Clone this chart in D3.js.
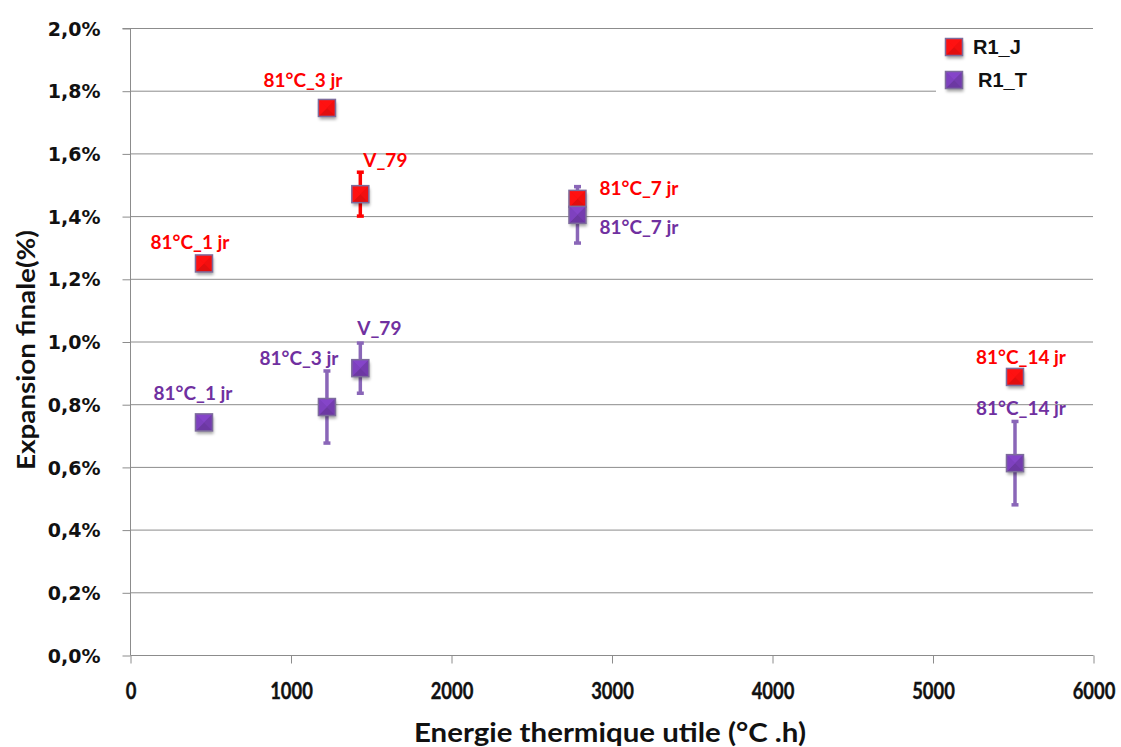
<!DOCTYPE html>
<html><head><meta charset="utf-8">
<script src="https://cdn.jsdelivr.net/npm/d3@7/dist/d3.min.js"></script>
<style>
body{margin:0;background:#fff;}
svg{display:block;}
</style></head>
<body>
<svg id="chart" width="1121" height="747"></svg>
<script>
// ---- data ----
const seriesNames = ["R1_J", "R1_T"];
const energyJ = [461, 1227, 1435, 2788, 5514];
const expansionJ = [1.249, 1.745, 1.470, 1.455, 0.887];
const errorJ = [0, 0, 0.070, 0, 0];
const labelsJ = ["81°C_1 jr", "81°C_3 jr", "V_79", "81°C_7 jr", "81°C_14 jr"];

const energyT = [461, 1227, 1435, 2788, 5514];
const expansionT = [0.742, 0.791, 0.915, 1.404, 0.612];
const errorT = [0, 0.115, 0.080, 0.090, 0.133];
const labelsT = ["81°C_1 jr", "81°C_3 jr", "V_79", "81°C_7 jr", "81°C_14 jr"];

const xTicks = [0, 1000, 2000, 3000, 4000, 5000, 6000];
const yTicks = [0, 0.2, 0.4, 0.6, 0.8, 1.0, 1.2, 1.4, 1.6, 1.8, 2.0];
const xTitle = "Energie thermique utile (°C .h)";
const yTitle = "Expansion finale(%)";

// ---- layout / style ----
const svg = d3.select("#chart");
const L = 130, R = 1093, T = 28, B = 655;
const x = d3.scaleLinear().domain([0, 6000]).range([L, R]);
const y = d3.scaleLinear().domain([0, 2.0]).range([B, T]);
const gridColor = "#8c8c8c";
const calibriLike = "Lato, 'Open Sans', sans-serif";

// label offsets (layout): [dx, dy, anchor]
const offJ = [[-14, -21, "middle"], [-24, -28, "middle"], [3, -34, "start"], [22, -11, "start"], [6, -20, "middle"]];
const offT = [[-11, -29, "middle"], [-28, -49, "middle"], [-3, -40, "start"], [22, 13, "start"], [6, -55, "middle"]];

const defs = svg.append("defs");
const f = defs.append("filter").attr("id", "shadow").attr("x", "-50%").attr("y", "-50%").attr("width", "200%").attr("height", "200%");
f.append("feDropShadow").attr("dx", 1).attr("dy", 3).attr("stdDeviation", 1.6).attr("flood-color", "#000").attr("flood-opacity", 0.35);

// gridlines
svg.append("g").selectAll("line").data(yTicks.filter(d => d > 0)).join("line")
  .attr("x1", L).attr("x2", R).attr("y1", d => y(d) + 0.5).attr("y2", d => y(d) + 0.5)
  .attr("stroke", gridColor).attr("stroke-width", 1);

// y axis
const yAxis = d3.axisLeft(y).tickValues(yTicks).tickSize(8).tickPadding(22)
  .tickFormat(d => d3.format(".1f")(d).replace(".", ",") + "%");
const gy = svg.append("g").attr("transform", `translate(${L + 0.5},0.5)`).call(yAxis);
gy.select(".domain").attr("stroke", gridColor).attr("d", `M-8,${T}H0V${B}`);
gy.selectAll(".tick line").attr("stroke", gridColor);
gy.selectAll(".tick text").attr("font-family", "'DejaVu Sans', Verdana, sans-serif")
  .attr("font-weight", "bold").attr("font-size", 19).attr("fill", "#111").attr("dy", "0.35em");

// x axis
const xAxis = d3.axisBottom(x).tickValues(xTicks).tickSize(8).tickPadding(0).tickFormat(d3.format("d"));
const gx = svg.append("g").attr("transform", `translate(0.5,${B + 0.5})`).call(xAxis);
gx.select(".domain").attr("stroke", gridColor).attr("d", `M${L},0H${R}`);
gx.selectAll(".tick line").attr("stroke", gridColor);
gx.selectAll(".tick text").attr("font-family", calibriLike)
  .attr("font-weight", "bold").attr("font-size", 23).attr("fill", "#111")
  .attr("stroke", "#111").attr("stroke-width", 0.4)
  .attr("y", 0).attr("dy", "0").attr("transform", "translate(0,43) scale(0.8,1)");

// axis titles
svg.append("text").attr("x", 610).attr("y", 742).attr("text-anchor", "middle")
  .attr("font-family", calibriLike).attr("font-weight", "bold")
  .attr("font-size", 26).attr("fill", "#111")
  .attr("textLength", 392).attr("lengthAdjust", "spacingAndGlyphs").text(xTitle);
svg.append("text").attr("transform", "translate(35,350) rotate(-90)").attr("text-anchor", "middle")
  .attr("font-family", calibriLike).attr("font-weight", "bold")
  .attr("font-size", 25).attr("fill", "#111")
  .attr("textLength", 240).attr("lengthAdjust", "spacingAndGlyphs").text(yTitle);

// marker drawing
function marker(g, cx, cy, base, s) {
  const h = s / 2;
  const c = d3.color(base);
  const m = g.append("g").attr("transform", `translate(${cx},${cy})`);
  m.append("rect").attr("x", -h).attr("y", -h).attr("width", s).attr("height", s)
    .attr("fill", base).attr("filter", "url(#shadow)");
  const tris = [
    [[-h, -h], [h, -h], [0, 0], c.brighter(0.25)],
    [[h, -h], [h, h], [0, 0], c.darker(0.15)],
    [[h, h], [-h, h], [0, 0], c.darker(0.35)],
    [[-h, h], [-h, -h], [0, 0], c.brighter(0.1)]
  ];
  tris.forEach(t => {
    m.append("path").attr("d", `M${t[0][0]},${t[0][1]}L${t[1][0]},${t[1][1]}L${t[2][0]},${t[2][1]}Z`)
      .attr("fill", t[3]);
  });
  m.append("rect").attr("x", -h).attr("y", -h).attr("width", s).attr("height", s)
    .attr("fill", "none").attr("stroke", "#7d6c9c").attr("stroke-width", 1.5);
}

function drawErrors(xs, ys, es, errColor) {
  const g = svg.append("g");
  xs.forEach((xv, i) => {
    if (es[i] > 0) {
      const cx = x(xv);
      g.append("line").attr("x1", cx).attr("x2", cx).attr("y1", y(ys[i] + es[i])).attr("y2", y(ys[i] - es[i]))
        .attr("stroke", errColor).attr("stroke-width", 3.5);
      [ys[i] + es[i], ys[i] - es[i]].forEach(v => {
        g.append("line").attr("x1", cx - 3.5).attr("x2", cx + 3.5).attr("y1", y(v)).attr("y2", y(v))
          .attr("stroke", errColor).attr("stroke-width", 3.5);
      });
    }
  });
}
function drawMarkers(xs, ys, fill) {
  const g = svg.append("g");
  xs.forEach((xv, i) => marker(g, x(xv), y(ys[i]), fill, 17));
}

drawErrors(energyT, expansionT, errorT, "#8a66b8");
drawErrors(energyJ, expansionJ, errorJ, "#ff0000");
drawMarkers(energyJ, expansionJ, "#ff1010");
drawMarkers(energyT, expansionT, "#7a3fb8");

function drawLabels(xs, ys, labels, offs, color) {
  svg.append("g").selectAll("text").data(labels).join("text")
    .attr("x", (d, i) => x(xs[i]) + offs[i][0])
    .attr("y", (d, i) => y(ys[i]) + offs[i][1])
    .attr("dy", "0.35em")
    .attr("text-anchor", (d, i) => offs[i][2])
    .attr("font-family", calibriLike).attr("font-weight", "bold")
    .attr("font-size", 19).attr("fill", color).text(d => d);
}
drawLabels(energyJ, expansionJ, labelsJ, offJ, "#ff0000");
drawLabels(energyT, expansionT, labelsT, offT, "#7030a0");

// legend
const lg = svg.append("g");
lg.append("rect").attr("x", 936).attr("y", 30).attr("width", 170).attr("height", 70).attr("fill", "#fff");
const legendFill = ["#ff1010", "#7a3fb8"];
seriesNames.forEach((n, i) => {
  const cy = 47 + i * 33;
  marker(lg, 954, cy, legendFill[i], 17);
  lg.append("text").attr("x", 973 + i * 5).attr("y", cy).attr("dy", "0.36em")
    .attr("font-family", "'Liberation Sans', Arial, sans-serif").attr("font-weight", "bold")
    .attr("font-size", 20).attr("fill", "#111").text(n);
});
</script>
</body></html>
